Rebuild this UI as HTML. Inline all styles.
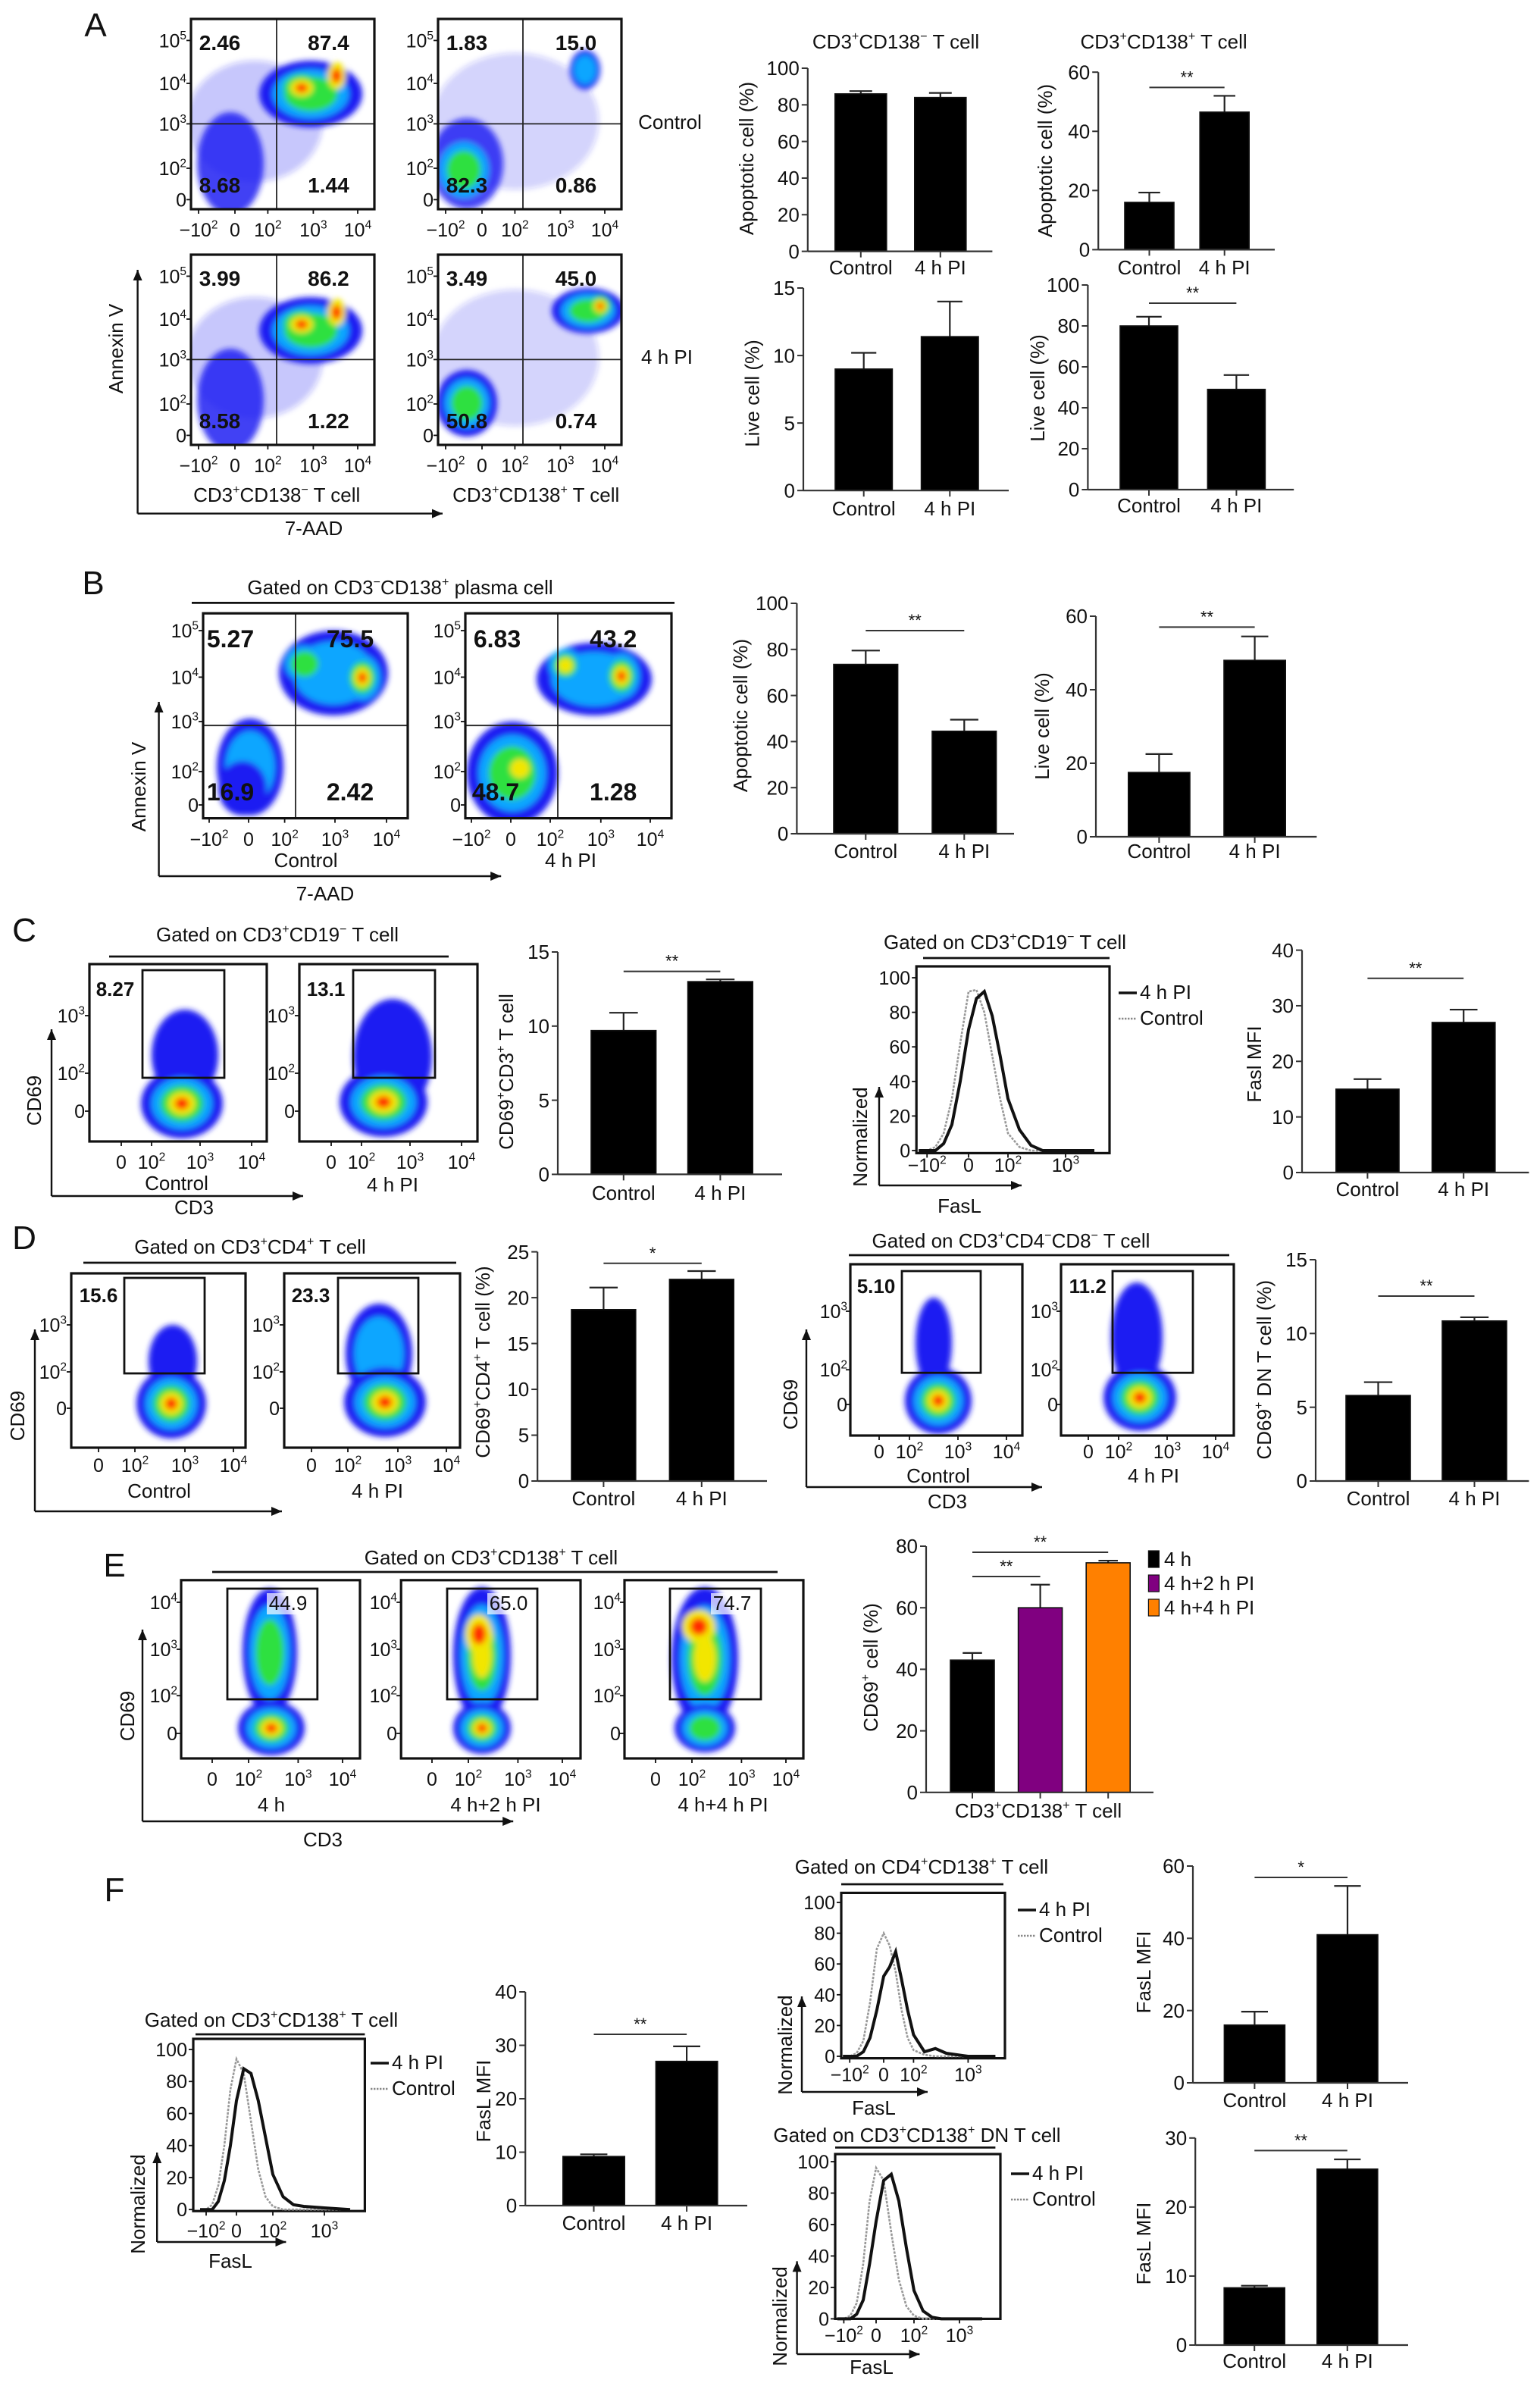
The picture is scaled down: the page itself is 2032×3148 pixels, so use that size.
<!DOCTYPE html>
<html><head><meta charset="utf-8"><title>Figure</title>
<style>html,body{margin:0;padding:0;background:#fff;}svg{display:block;font-family:"Liberation Sans",Arial,sans-serif;}</style>
</head><body>
<svg id="fig" xmlns="http://www.w3.org/2000/svg" width="2032" height="3148" viewBox="0 0 1016 1574">
<defs id="defs">
<filter id="blur" x="-20%" y="-20%" width="140%" height="140%"><feGaussianBlur stdDeviation="1.8"/></filter>
<marker id="arr" markerWidth="8" markerHeight="8" refX="7" refY="4" orient="auto" markerUnits="userSpaceOnUse"><path d="M0,1 L7,4 L0,7 Z" fill="#111"/></marker>
</defs>
<rect x="0" y="0" width="1016" height="1574" fill="#fff"/>
</svg>
<script>
// ---------- bar chart data ----------
const twoCats=['Control','4 h PI'];
const eCats=['4 h','4 h+2 h PI','4 h+4 h PI'];
const pctTicks=[0,20,40,60,80,100];
const sixtyTicks=[0,20,40,60];
const fifteenTicks=[0,5,10,15];
const fortyTicks=[0,10,20,30,40];
const twentyFiveTicks=[0,5,10,15,20,25];
const eightyTicks=[0,20,40,60,80];
const thirtyTicks=[0,10,20,30];
const aNegApoVals=[86,84];
const aNegApoErrs=[1.5,2.5];
const aPosApoVals=[16,46.5];
const aPosApoErrs=[3.3,5.5];
const aNegLiveVals=[9,11.4];
const aNegLiveErrs=[1.2,2.6];
const aPosLiveVals=[80,49];
const aPosLiveErrs=[4.5,7];
const bApoVals=[73.5,44.5];
const bApoErrs=[6,5];
const bLiveVals=[17.5,48];
const bLiveErrs=[5,6.5];
const cCd69Vals=[9.7,13];
const cCd69Errs=[1.2,0.15];
const cFaslVals=[15,27];
const cFaslErrs=[1.8,2.3];
const dCd4Vals=[18.7,22];
const dCd4Errs=[2.4,0.9];
const dDnVals=[5.8,10.85];
const dDnErrs=[0.9,0.25];
const eVals=[43,60,74.6];
const eErrs=[2.3,7.5,0.7];
const f1Vals=[9.2,27];
const f1Errs=[0.4,2.8];
const f2Vals=[16,41];
const f2Errs=[3.7,13.5];
const f3Vals=[8.3,25.5];
const f3Errs=[0.3,1.4];
// ---------- histogram data (FasL, logicle units: -1=-10^2, 0=0, 1=10^2, 2=10^3) ----------
const histGrid=[-1.2,-1.0,-0.8,-0.6,-0.4,-0.2,0,0.2,0.4,0.6,0.8,1.0,1.2,1.4,1.6,2.0,2.5];
const histTickUnits=[-1,0,1,2];
const histTickLabels=['−10^2','0','10^2','10^3'];
const histYTicks=[0,20,40,60,80,100];
const cHistCtrl=[0,0,2,10,30,62,92,93,80,55,30,10,2,0,0,0,0];
const cHistPI=[0,0,0,4,15,40,70,88,92,78,55,30,12,3,0,0,0];
const f1HistCtrl=[0,0,3,15,40,75,94,85,55,25,8,2,0,0,0,0,0];
const f1HistPI=[0,0,0,5,18,40,68,88,85,68,45,22,8,3,2,1,0];
const f2HistCtrl=[0,0,2,10,35,70,80,72,55,30,12,4,1,0,0,0,0];
const f2HistPI=[0,0,0,3,12,30,52,58,68,50,30,14,3,5,2,0,0];
const f3HistCtrl=[0,0,2,10,35,75,96,88,55,25,8,2,0,0,0,0,0];
const f3HistPI=[0,0,0,3,12,35,62,88,92,75,45,18,5,1,0,0,0];

const NS='http://www.w3.org/2000/svg';
const svg=document.getElementById('fig');
const defs=document.getElementById('defs');
function el(tag,attrs,parent,name){
  const e=document.createElementNS(NS,tag);
  for(const k in attrs) e.setAttribute(k,attrs[k]);
  
  
  (parent||svg).appendChild(e);
  return e;
}
function txt(x,y,s,o,parent,name){
  o=o||{};
  const size=o.size||12.5;
  const t=el('text',{x:x,y:y,'font-size':size,'text-anchor':o.anchor||'middle','font-weight':o.weight||'normal',fill:o.fill||'#111'},parent,name);
  if(o.rot) t.setAttribute('transform','rotate(-90 '+x+' '+y+')');
  const segs=[];let buf='';let i=0;
  while(i<s.length){
    if(s[i]==='^'){ if(buf) segs.push([buf,false]); buf=''; segs.push([s[i+1],true]); i+=2; }
    else { buf+=s[i]; i++; }
  }
  if(buf) segs.push([buf,false]);
  let shifted=false;
  for(const sg of segs){
    const ts=document.createElementNS(NS,'tspan');
    
    
    if(sg[1]){ ts.setAttribute('font-size',size*0.62); ts.setAttribute('dy',shifted?0:-size*0.42); shifted=true; }
    else if(shifted){ ts.setAttribute('dy',size*0.42); shifted=false; }
    ts.textContent=sg[0]; t.appendChild(ts);
  }
  return t;
}
function line(x1,y1,x2,y2,o,parent,name){
  o=o||{};
  const l=el('line',{x1:x1,y1:y1,x2:x2,y2:y2,stroke:o.stroke||'#111','stroke-width':o.w||1},parent,name);
  if(o.arrow) l.setAttribute('marker-end','url(#arr)');
  if(o.dash) l.setAttribute('stroke-dasharray',o.dash);
  return l;
}
// ---------- bar charts ----------
function bars(c){
  const g=el('g',{},svg,c.name);
  const ys=v=>c.y0-(v/c.ymax)*(c.y0-c.yTop);
  const xl=i=>c.ax+c.off+i*c.step;
  const cols=c.colors||['#000','#000','#000'];
  c.vals.forEach((v,i)=>{
    const cx=xl(i)+c.bw/2;
    line(cx,ys(v),cx,ys(v+c.errs[i]),{w:1.1,stroke:'#222'},g,'error-bar');
    line(cx-c.bw*0.22,ys(v+c.errs[i]),cx+c.bw*0.22,ys(v+c.errs[i]),{w:1.1,stroke:'#222'},g,'error-cap');
    el('rect',{x:xl(i),y:ys(v),width:c.bw,height:c.y0-ys(v),fill:cols[i],stroke:'#111','stroke-width':0.8},g,'bar-'+(c.cats?c.cats[i]:eCats[i]).replace(/[^a-z0-9]+/gi,'-').toLowerCase());
    line(cx,c.y0,cx,c.y0+4,{w:1,stroke:'#333'},g,'x-tick');
    if(c.cats) txt(cx,c.labY,c.cats[i],{size:13},g,'x-tick-label');
  });
  line(c.ax,c.y0,c.ax,c.yTop,{w:1.1,stroke:'#333'},g,'y-axis');
  line(c.ax,c.y0,c.xEnd,c.y0,{w:1.1,stroke:'#333'},g,'x-axis');
  c.ticks.forEach(t=>{
    line(c.ax-4,ys(t),c.ax,ys(t),{w:1,stroke:'#333'},g,'y-tick');
    txt(c.ax-5.5,ys(t)+4.6,String(t),{size:13,anchor:'end'},g,'y-tick-label');
  });
  txt(c.ylabX,c.ylabY,c.ylab,{size:13,rot:true},g,'y-axis-title');
  (c.sig||[]).forEach(s=>{
    const x1=xl(s[0])+c.bw/2, x2=xl(s[1])+c.bw/2;
    line(x1,s[2],x2,s[2],{w:1,stroke:'#333'},g,'significance-line');
    txt((x1+x2)/2,s[2]-3,s[3],{size:11},g,'significance-stars');
  });
  if(c.title) txt(c.title[0],c.title[1],c.title[2],{size:13},g,'chart-title');
  return g;
}
// ---------- flow plots ----------
const lvlCols=['#1c1cf2','#08a6ff','#2ee040','#f2e600','#ff2a00'];
const lvlSc=[1,0.74,0.52,0.33,0.17];
function blob(g,b){
  const from=b[4], to=b[5], op=b[6]===undefined?1:b[6];
  for(let i=from;i<to;i++){
    const s=lvlSc[i]/lvlSc[from];
    el('ellipse',{cx:b[0],cy:b[1],rx:b[2]*s,ry:b[3]*s,fill:lvlCols[i],'fill-opacity':i===from?op:1},g,'density-level');
  }
}
function flow(c){
  const g=el('g',{},svg,c.name);
  const cp=el('clipPath',{id:'clip-'+c.name},defs,'clip');
  el('rect',{x:c.x0,y:c.y0,width:c.x1-c.x0,height:c.y1-c.y0},cp,'clip-rect');
  const cg=el('g',{'clip-path':'url(#clip-'+c.name+')'},g,'density-plot');
  const bg=el('g',{filter:'url(#blur)'},cg,'density-cloud');
  c.blobs.forEach(b=>blob(bg,b));
  if(c.qv){
    line(c.qv,c.y0,c.qv,c.y1,{w:0.9,stroke:'#222'},g,'quadrant-vertical');
    line(c.x0,c.qh,c.x1,c.qh,{w:0.9,stroke:'#222'},g,'quadrant-horizontal');
  }
  if(c.gate) el('rect',{x:c.gate[0],y:c.gate[1],width:c.gate[2]-c.gate[0],height:c.gate[3]-c.gate[1],fill:'none',stroke:'#111','stroke-width':1.4},g,'gate');
  el('rect',{x:c.x0,y:c.y0,width:c.x1-c.x0,height:c.y1-c.y0,fill:'none',stroke:'#111','stroke-width':1.6},g,'plot-frame');
  c.yt.forEach(t=>{
    line(c.x0-3,t[1],c.x0,t[1],{w:0.9},g,'y-tick');
    txt(c.ytX,t[1]+4.5,t[0],{size:12.5,anchor:'end'},g,'y-tick-label');
  });
  c.xt.forEach(t=>{
    line(t[1],c.y1,t[1],c.y1+3,{w:0.9},g,'x-tick');
    txt(t[1],c.xtY,t[0],{size:12.5},g,'x-tick-label');
  });
  (c.nums||[]).forEach(n=>{
    if(c.numBg) el('rect',{x:n[1]-14,y:n[2]-11,width:30,height:14,fill:'#fff','fill-opacity':0.7},g,'label-background');
    txt(n[1],n[2],n[0],{size:c.numSize||14,weight:c.numWeight||'bold',fill:'#111'},g,'gate-percentage');
  });
  return g;
}
// ---------- histograms ----------
function hist(c){
  const g=el('g',{},svg,c.name);
  const hx=u=>{
    const T=histTickUnits,P=c.tickPx;
    let k=0; if(u>=T[T.length-1]) k=T.length-2; else { while(k<T.length-2 && u>T[k+1]) k++; }
    return P[k]+(u-T[k])*(P[k+1]-P[k])/(T[k+1]-T[k]);
  };
  const hy=v=>c.yZero-(v/100)*(c.yZero-c.yHundred);
  el('rect',{x:c.x0,y:c.y0,width:c.x1-c.x0,height:c.y1-c.y0,fill:'none',stroke:'#111','stroke-width':1.6},g,'plot-frame');
  histYTicks.forEach(t=>{
    line(c.x0-3,hy(t),c.x0,hy(t),{w:0.9},g,'y-tick');
    txt(c.x0-4,hy(t)+4.5,String(t),{size:12.5,anchor:'end'},g,'y-tick-label');
  });
  histTickUnits.forEach((u,i)=>{
    line(hx(u),c.y1,hx(u),c.y1+3,{w:0.9},g,'x-tick');
    txt(hx(u),c.xtY,histTickLabels[i],{size:12.5},g,'x-tick-label');
  });
  const pts=arr=>histGrid.map((u,i)=>hx(u).toFixed(1)+','+Math.min(hy(arr[i]),c.y1).toFixed(1)).join(' ');
  el('polyline',{points:pts(c.ctrl),fill:'none',stroke:'#999','stroke-width':1.3,'stroke-dasharray':'1.6 0.8'},g,'control-curve');
  el('polyline',{points:pts(c.pi),fill:'none',stroke:'#111','stroke-width':2},g,'4h-pi-curve');
  line(c.legX,c.legY-4,c.legX+12,c.legY-4,{w:1.8},g,'legend-swatch-4h-pi');
  txt(c.legX+14,c.legY,'4 h PI',{size:13,anchor:'start'},g,'legend-label-4h-pi');
  line(c.legX,c.legY+13,c.legX+12,c.legY+13,{w:1.2,stroke:'#888',dash:'1.2 0.8'},g,'legend-swatch-control');
  txt(c.legX+14,c.legY+17,'Control',{size:13,anchor:'start'},g,'legend-label-control');
  txt(c.title[0],c.title[1],c.title[2],{size:13},g,'hist-title');
  line(c.tline[0],c.tline[2],c.tline[1],c.tline[2],{w:1.4},g,'title-underline');
  line(c.ax[0],c.ax[1],c.ax[0],c.ax[2],{w:1.2,arrow:true},g,'y-arrow');
  line(c.ax[0],c.ax[1],c.ax[3],c.ax[1],{w:1.2,arrow:true},g,'x-arrow');
  txt(c.normX,c.normY,'Normalized',{size:13,rot:true},g,'y-axis-title');
  txt(c.fasX,c.fasY,'FasL',{size:13},g,'x-axis-title');
}
function letter(x,y,s){ txt(x,y,s,{size:22},svg,'panel-label-'+s.toLowerCase()); }
function axes(x,yb,yt,xr,name){
  line(x,yb,x,yt,{w:1.2,arrow:true},svg,name+'-y-arrow');
  line(x,yb,xr,yb,{w:1.2,arrow:true},svg,name+'-x-arrow');
}

// ================= PANEL A =================
letter(63,24,'A');
const aYt=(o)=>[['10^5',26.7+o],['10^4',55+o],['10^3',81.7+o],['10^2',111+o],['0',131.7+o]];
const aXt=(d)=>[['−10^2',131+d],['0',155+d],['10^2',176.7+d],['10^3',206.7+d],['10^4',236+d]];
flow({name:'flow-a-neg-control',x0:126,y0:12.5,x1:247,y1:138,qv:182.5,qh:81.7,yt:aYt(0),ytX:123,xt:aXt(0),xtY:156,
  nums:[['2.46',145,33],['87.4',216.7,33],['8.68',145,127],['1.44',216.7,127]],
  blobs:[[168,80,45,40,0,1,0.25],[152,108,22,34,0,1,0.85],[205,62,34,22,0,3],[199,58,12,9,2,5],[222,50,6,9,3,5]]});
flow({name:'flow-a-pos-control',x0:289,y0:12.5,x1:410,y1:138,qv:345,qh:81.7,yt:aYt(0),ytX:286,xt:aXt(163),xtY:156,
  nums:[['1.83',308,33],['15.0',380,33],['82.3',308,127],['0.86',380,127]],
  blobs:[[340,80,55,45,0,1,0.2],[308,108,24,30,0,1,0.8],[306,112,16,18,1,3],[386,46,10,13,0,2]]});
flow({name:'flow-a-neg-4hpi',x0:126,y0:168,x1:247,y1:293.5,qv:182.5,qh:237.2,yt:aYt(155.5),ytX:123,xt:aXt(0),xtY:311.5,
  nums:[['3.99',145,188.5],['86.2',216.7,188.5],['8.58',145,282.5],['1.22',216.7,282.5]],
  blobs:[[168,236,45,40,0,1,0.25],[152,264,22,34,0,1,0.85],[205,218,34,22,0,3],[199,214,12,9,2,5],[222,206,6,9,3,5]]});
flow({name:'flow-a-pos-4hpi',x0:289,y0:168,x1:410,y1:293.5,qv:345,qh:237.2,yt:aYt(155.5),ytX:286,xt:aXt(163),xtY:311.5,
  nums:[['3.49',308,188.5],['45.0',380,188.5],['50.8',308,282.5],['0.74',380,282.5]],
  blobs:[[340,236,55,45,0,1,0.2],[308,266,20,22,0,3],[388,205,24,15,0,3],[396,202,7,7,2,5]]});
txt(442,85,'Control',{size:13},svg,'row-label-control');
txt(440,240,'4 h PI',{size:13},svg,'row-label-4h-pi');
txt(182.6,331,'CD3^+CD138^− T cell',{size:13},svg,'column-label-cd138-neg');
txt(353.6,331,'CD3^+CD138^+ T cell',{size:13},svg,'column-label-cd138-pos');
axes(90.8,338.8,178,292,'panel-a');
txt(207,353,'7-AAD',{size:13},svg,'x-axis-title-7aad');
txt(81,230,'Annexin V',{size:13,rot:true},svg,'y-axis-title-annexin');

bars({name:'bar-a-neg-apoptotic',ax:532.9,y0:165.8,yTop:45,ymax:100,ticks:pctTicks,xEnd:654.7,off:18,bw:34,step:52.5,cats:twoCats,vals:aNegApoVals,errs:aNegApoErrs,labY:181,ylab:'Apoptotic cell (%)',ylabX:497,ylabY:104.5,title:[591,32,'CD3^+CD138^− T cell']});
bars({name:'bar-a-pos-apoptotic',ax:724.6,y0:164.7,yTop:47.6,ymax:60,ticks:sixtyTicks,xEnd:841,off:17.4,bw:32.5,step:49.6,cats:twoCats,vals:aPosApoVals,errs:aPosApoErrs,labY:181,ylab:'Apoptotic cell (%)',ylabX:694,ylabY:106,sig:[[0,1,57.7,'**']],title:[767.8,32,'CD3^+CD138^+ T cell']});
bars({name:'bar-a-neg-live',ax:530,y0:323.6,yTop:190,ymax:15,ticks:fifteenTicks,xEnd:665.5,off:21,bw:37.7,step:56.8,cats:twoCats,vals:aNegLiveVals,errs:aNegLiveErrs,labY:340,ylab:'Live cell (%)',ylabX:500.8,ylabY:259.5});
bars({name:'bar-a-pos-live',ax:717.7,y0:323,yTop:188,ymax:100,ticks:pctTicks,xEnd:853.6,off:21.3,bw:38,step:57.7,cats:twoCats,vals:aPosLiveVals,errs:aPosLiveErrs,labY:338,ylab:'Live cell (%)',ylabX:689,ylabY:256,sig:[[0,1,200,'**']]});

// ================= PANEL B =================
letter(61.5,392,'B');
txt(264,392,'Gated on CD3^−CD138^+ plasma cell',{size:13},svg,'panel-b-gate-title');
line(126.5,397.7,445,397.7,{w:1.4},svg,'panel-b-title-underline');
const bYt=[['10^5',416],['10^4',446.7],['10^3',476],['10^2',509],['0',531]];
flow({name:'flow-b-control',x0:134,y0:404.6,x1:269,y1:539.8,qv:195,qh:478.6,yt:bYt,ytX:131,
  xt:[['−10^2',138],['0',164],['10^2',187.8],['10^3',221],['10^4',255]],xtY:558,numSize:16,
  nums:[['5.27',152,427],['75.5',231,427],['16.9',152,528],['2.42',231,528]],
  blobs:[[220,444,36,28,0,2],[201,438,13,12,1,3],[239,447,12,15,1,5],[165,506,22,32,0,2],[160,520,16,18,0,1]]});
flow({name:'flow-b-4hpi',x0:307,y0:404.6,x1:443,y1:539.8,qv:368,qh:478.6,yt:bYt,ytX:304,
  xt:[['−10^2',311],['0',337],['10^2',363],['10^3',396.4],['10^4',429]],xtY:558,numSize:16,
  nums:[['6.83',328,427],['43.2',404.6,427],['48.7',327,528],['1.28',404.6,528]],
  blobs:[[392,448,38,24,0,2],[373,439,11,11,1,4],[410,446,12,15,1,5],[338,510,30,34,0,3],[343,507,10,10,2,4]]});
txt(201.8,572,'Control',{size:13},svg,'b-label-control');
txt(376.5,572,'4 h PI',{size:13},svg,'b-label-4h-pi');
axes(104.8,578,463,330.6,'panel-b');
txt(214.5,594,'7-AAD',{size:13},svg,'b-x-axis-title');
txt(96,519,'Annexin V',{size:13,rot:true},svg,'b-y-axis-title');
bars({name:'bar-b-apoptotic',ax:525.7,y0:550,yTop:398,ymax:100,ticks:pctTicks,xEnd:669,off:24.3,bw:42.3,step:65,cats:twoCats,vals:bApoVals,errs:bApoErrs,labY:566,ylab:'Apoptotic cell (%)',ylabX:493,ylabY:472,sig:[[0,1,416,'**']]});
bars({name:'bar-b-live',ax:723,y0:552,yTop:406.5,ymax:60,ticks:sixtyTicks,xEnd:868.7,off:21.4,bw:40.6,step:63.1,cats:twoCats,vals:bLiveVals,errs:bLiveErrs,labY:566,ylab:'Live cell (%)',ylabX:692,ylabY:479,sig:[[0,1,413.7,'**']]});

// ================= PANEL C =================
letter(16,621,'C');
txt(183,621,'Gated on CD3^+CD19^− T cell',{size:13},svg,'panel-c-gate-title');
line(72,631,296,631,{w:1.4},svg,'panel-c-title-underline');
const cYt=[['10^3',670],['10^2',708],['0',733]];
const cXt=(d)=>[['0',80+d],['10^2',100+d],['10^3',132+d],['10^4',166+d]];
flow({name:'flow-c-control',x0:59,y0:636,x1:176,y1:753,gate:[94,640,148,711],yt:cYt,ytX:56,xt:cXt(0),xtY:771,numSize:13,
  nums:[['8.27',76,657]],
  blobs:[[122,696,22,30,0,1],[120,728,27,23,0,5]]});
flow({name:'flow-c-4hpi',x0:197.5,y0:636,x1:315,y1:753,gate:[233,640,287,711],yt:cYt,ytX:194.5,xt:cXt(138.5),xtY:771,numSize:13,
  nums:[['13.1',215,657]],
  blobs:[[259,697,26,38,0,1],[253,727,29,23,0,5]]});
txt(116.5,785,'Control',{size:13},svg,'c-label-control');
txt(259,786,'4 h PI',{size:13},svg,'c-label-4h-pi');
axes(34,789,679,200,'panel-c');
txt(128,801,'CD3',{size:13},svg,'c-x-axis-title');
txt(27,726,'CD69',{size:13,rot:true},svg,'c-y-axis-title');
bars({name:'bar-c-cd69',ax:368,y0:774.7,yTop:628,ymax:15,ticks:fifteenTicks,xEnd:516,off:22,bw:42.8,step:63.8,cats:twoCats,vals:cCd69Vals,errs:cCd69Errs,labY:791.5,ylab:'CD69^+CD3^+ T cell',ylabX:338.5,ylabY:707,sig:[[0,1,640.8,'**']]});
hist({name:'hist-c-fasl',x0:604.6,y0:637.5,x1:732,y1:760.7,yZero:759,yHundred:645,tickPx:[611.6,639,665,703],xtY:773,
  ctrl:cHistCtrl,pi:cHistPI,legX:738,legY:659,title:[663,626,'Gated on CD3^+CD19^− T cell'],tline:[609,732,632],
  ax:[580,782,717,674],normX:572,normY:750,fasX:633,fasY:800});
bars({name:'bar-c-fasl',ax:859,y0:773.5,yTop:626.8,ymax:40,ticks:fortyTicks,xEnd:1008.7,off:22.4,bw:41.6,step:63.4,cats:twoCats,vals:cFaslVals,errs:cFaslErrs,labY:789,ylab:'Fasl MFI',ylabX:832,ylabY:702,sig:[[0,1,645.4,'**']]});

// ================= PANEL D =================
letter(16,824,'D');
txt(165,827,'Gated on CD3^+CD4^+ T cell',{size:13},svg,'panel-d-gate-title');
line(55,833,301,833,{w:1.4},svg,'panel-d-title-underline');
const dYt=[['10^3',874],['10^2',905],['0',929]];
const dXt=(d)=>[['0',65+d],['10^2',89+d],['10^3',122+d],['10^4',154+d]];
flow({name:'flow-d-cd4-control',x0:47,y0:840,x1:162,y1:955,gate:[82,843,135,906],yt:dYt,ytX:44,xt:dXt(0),xtY:971,numSize:13,
  nums:[['15.6',65,859]],
  blobs:[[114,898,16,24,0,1],[113,926,23,23,0,5]]});
flow({name:'flow-d-cd4-4hpi',x0:187.5,y0:840,x1:303.5,y1:955,gate:[223,843,276,906],yt:dYt,ytX:184.5,xt:dXt(140.5),xtY:971,numSize:13,
  nums:[['23.3',205,859]],
  blobs:[[250,893,22,33,0,2],[254,925,27,23,0,5]]});
txt(105,988,'Control',{size:13},svg,'d-label-control');
txt(249,988,'4 h PI',{size:13},svg,'d-label-4h-pi');
axes(23,997,877,186,'panel-d-cd4');
txt(16,934,'CD69',{size:13,rot:true},svg,'d-y-axis-title');
bars({name:'bar-d-cd4',ax:354.6,y0:977,yTop:825.8,ymax:25,ticks:twentyFiveTicks,xEnd:506,off:22.4,bw:42.4,step:64.7,cats:twoCats,vals:dCd4Vals,errs:dCd4Errs,labY:993,ylab:'CD69^+CD4^+ T cell (%)',ylabX:323,ylabY:898.5,sig:[[0,1,833.4,'*']]});
txt(667,823,'Gated on CD3^+CD4^−CD8^− T cell',{size:13},svg,'panel-d-dn-gate-title');
line(560,828,811,828,{w:1.4},svg,'panel-d-dn-title-underline');
const dnYt=[['10^3',865],['10^2',903.6],['0',926.5]];
const dnXt=(d)=>[['0',580+d],['10^2',600+d],['10^3',632+d],['10^4',664+d]];
flow({name:'flow-d-dn-control',x0:561,y0:834,x1:674.5,y1:947,gate:[595,838.5,647,905.6],yt:dnYt,ytX:559,xt:dnXt(0),xtY:962,numSize:13,
  nums:[['5.10',578,853]],
  blobs:[[616,886,12,30,0,1],[619,924,22,22,0,5]]});
flow({name:'flow-d-dn-4hpi',x0:700,y0:834,x1:814,y1:947,gate:[734,838.5,787,905.6],yt:dnYt,ytX:698,xt:dnXt(138),xtY:962,numSize:13,
  nums:[['11.2',717.6,853]],
  blobs:[[750,882,17,36,0,1],[752,922,24,22,0,5]]});
txt(619,978,'Control',{size:13},svg,'d-dn-label-control');
txt(761,978,'4 h PI',{size:13},svg,'d-dn-label-4h-pi');
axes(532,981,877,687.5,'panel-d-dn');
txt(625,995,'CD3',{size:13},svg,'d-dn-x-axis-title');
txt(526,926.5,'CD69',{size:13,rot:true},svg,'d-dn-y-axis-title');
bars({name:'bar-d-dn',ax:868,y0:977,yTop:831,ymax:15,ticks:fifteenTicks,xEnd:1008.7,off:20,bw:42.5,step:63.5,cats:twoCats,vals:dDnVals,errs:dDnErrs,labY:993,ylab:'CD69^+ DN T cell (%)',ylabX:838.5,ylabY:903.6,sig:[[0,1,855,'**']]});

// ================= PANEL E =================
letter(75.5,1040,'E');
txt(324,1032,'Gated on CD3^+CD138^+ T cell',{size:13},svg,'panel-e-gate-title');
line(140,1037,513,1037,{w:1.4},svg,'panel-e-title-underline');
const eYt=[['10^4',1057],['10^3',1088],['10^2',1118.6],['0',1143.5]];
const eXt=(d)=>[['0',140+d],['10^2',164+d],['10^3',196.7+d],['10^4',226+d]];
flow({name:'flow-e-4h',x0:119.5,y0:1042.4,x1:237.5,y1:1160,gate:[150,1048,209.4,1121],yt:eYt,ytX:117,xt:eXt(0),xtY:1178,numSize:13,numWeight:'normal',numBg:true,
  nums:[['44.9',190,1062]],
  blobs:[[178,1090,18,42,0,3],[179,1140,22,18,0,5]]});
flow({name:'flow-e-4h-2h',x0:264.6,y0:1042.4,x1:383,y1:1160,gate:[295,1048,354.5,1121],yt:eYt,ytX:262,xt:eXt(145),xtY:1178,numSize:13,numWeight:'normal',numBg:true,
  nums:[['65.0',335.5,1062]],
  blobs:[[318,1092,19,45,0,4],[316,1078,9,13,3,5],[318,1140,19,17,0,5]]});
flow({name:'flow-e-4h-4h',x0:412,y0:1042.4,x1:530,y1:1160,gate:[442,1048,502,1121],yt:eYt,ytX:409.5,xt:eXt(292.5),xtY:1178,numSize:13,numWeight:'normal',numBg:true,
  nums:[['74.7',483,1062]],
  blobs:[[465,1094,22,47,0,4],[461,1073,11,11,3,5],[465,1140,20,16,0,3]]});
txt(179,1195,'4 h',{size:13},svg,'e-label-4h');
txt(327,1195,'4 h+2 h PI',{size:13},svg,'e-label-4h-2h');
txt(477,1195,'4 h+4 h PI',{size:13},svg,'e-label-4h-4h');
axes(94,1201.5,1075,338.6,'panel-e');
txt(213,1218,'CD3',{size:13},svg,'e-x-axis-title');
txt(88.4,1132,'CD69',{size:13,rot:true},svg,'e-y-axis-title');
bars({name:'bar-e-cd69',ax:611,y0:1182.4,yTop:1020,ymax:80,ticks:eightyTicks,xEnd:761,off:16,bw:29,step:44.8,vals:eVals,errs:eErrs,colors:['#000','#800080','#ff8000'],ylab:'CD69^+ cell (%)',ylabX:579,ylabY:1100,sig:[[0,1,1040,'**'],[0,2,1024,'**']]});
txt(685,1199,'CD3^+CD138^+ T cell',{size:13},svg,'e-bar-x-title');
const eLegCols=['#000','#800080','#ff8000'];
eCats.forEach((c,i)=>{
  const r=el('rect',{x:757.7,y:1023+i*16,width:7,height:11,fill:eLegCols[i],stroke:'#111','stroke-width':0.6},svg,'legend-swatch');
  txt(768,1033+i*16,c,{size:13,anchor:'start'},svg,'legend-label');
});

// ================= PANEL F =================
letter(75.5,1254,'F');
hist({name:'hist-f-cd3-cd138',x0:127.5,y0:1345,x1:240.7,y1:1458.6,yZero:1457.6,yHundred:1352,tickPx:[136,156,180,214],xtY:1476,
  ctrl:f1HistCtrl,pi:f1HistPI,legX:244.5,legY:1365,title:[179,1337,'Gated on CD3^+CD138^+ T cell'],tline:[129,240.7,1342],
  ax:[103.6,1479,1420,188.7],normX:95.5,normY:1454,fasX:152,fasY:1496});
bars({name:'bar-f-cd3-cd138-fasl',ax:346.6,y0:1455,yTop:1314,ymax:40,ticks:fortyTicks,xEnd:493,off:24.8,bw:40.7,step:61.3,cats:twoCats,vals:f1Vals,errs:f1Errs,labY:1471,ylab:'FasL MFI',ylabX:323.5,ylabY:1386,sig:[[0,1,1342,'**']]});
hist({name:'hist-f-cd4-cd138',x0:555,y0:1248.7,x1:663,y1:1357.8,yZero:1356.5,yHundred:1255,tickPx:[560.6,583,602.7,638.7],xtY:1373,
  ctrl:f2HistCtrl,pi:f2HistPI,legX:671.5,legY:1264,title:[608,1236,'Gated on CD4^+CD138^+ T cell'],tline:[555,662,1243],
  ax:[529,1380,1317,612],normX:522.5,normY:1349,fasX:576.5,fasY:1395});
bars({name:'bar-f-cd4-cd138-fasl',ax:787,y0:1374,yTop:1231,ymax:60,ticks:sixtyTicks,xEnd:929,off:20.7,bw:40,step:61.3,cats:twoCats,vals:f2Vals,errs:f2Errs,labY:1390,ylab:'FasL MFI',ylabX:759,ylabY:1301,sig:[[0,1,1238.5,'*']]});
hist({name:'hist-f-dn-cd138',x0:551,y0:1421,x1:660,y1:1529.7,yZero:1529.7,yHundred:1426,tickPx:[556.7,578,603,633],xtY:1545,
  ctrl:f3HistCtrl,pi:f3HistPI,legX:667,legY:1438,title:[605,1413,'Gated on CD3^+CD138^+ DN T cell'],tline:[551,656.7,1416.7],
  ax:[525.8,1553,1491.7,606.7],normX:519,normY:1528,fasX:575,fasY:1566});
bars({name:'bar-f-dn-cd138-fasl',ax:788.6,y0:1547,yTop:1410.4,ymax:30,ticks:thirtyTicks,xEnd:929,off:19,bw:40,step:61.3,cats:twoCats,vals:f3Vals,errs:f3Errs,labY:1562,ylab:'FasL MFI',ylabX:759,ylabY:1480,sig:[[0,1,1418.7,'**']]});
</script>
</body></html>
